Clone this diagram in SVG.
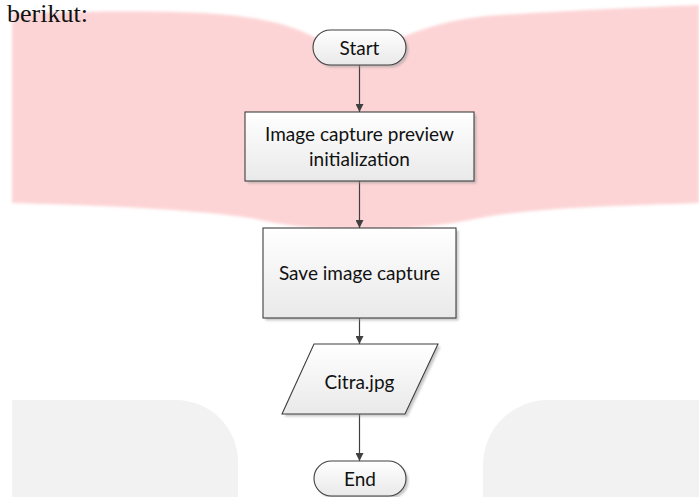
<svg xmlns="http://www.w3.org/2000/svg" width="699" height="497" viewBox="0 0 699 497">
<defs>
<style>
.node{fill:url(#g);stroke:#3f3f3f;stroke-width:1.1}
.sh{fill:#9a9a9a;opacity:0.55;filter:url(#blur)}
.lbl{font-family:Lato,"Open Sans","Liberation Sans",sans-serif;font-size:19px;fill:#111;text-anchor:middle}
.edge{stroke:#404040;stroke-width:1.2;fill:none;marker-end:url(#arr)}
</style>
<linearGradient id="g" x1="0" y1="0" x2="0" y2="1">
<stop offset="0" stop-color="#ffffff"/>
<stop offset="1" stop-color="#e9e9e9"/>
</linearGradient>
<filter id="blur" x="-10%" y="-10%" width="120%" height="130%"><feGaussianBlur stdDeviation="1"/></filter>
<filter id="soft" x="-5%" y="-5%" width="110%" height="110%"><feGaussianBlur stdDeviation="1.5"/></filter>
<marker id="arr" viewBox="0 0 10 10" refX="10" refY="5" markerWidth="8" markerHeight="8" markerUnits="userSpaceOnUse" orient="auto">
<path d="M0,0 L10,5 L0,10 Z" fill="#404040"/>
</marker>
</defs>
<rect width="699" height="497" fill="#ffffff"/>
<g id="background">
<path d="M12,13 C120,11 200,10 245,17 C285,23 300,30 320,40 L400,38 C430,26 455,18 500,15 C580,10 650,7 699,5 L699,203 C620,206 540,207 480,218 C450,224 420,229 360,229 C300,229 280,224 250,218 C200,210 100,205 12,203 Z" fill="#fdd4d6" filter="url(#soft)"/>
<path d="M12,497 V400 H176 A62,62 0 0 1 238,462 V497 Z" fill="#f2f2f2"/>
<path d="M699,497 V400 H548 A65,65 0 0 0 483,465 V497 Z" fill="#f2f2f2"/>
<text x="7" y="22" font-family="'Liberation Serif',serif" font-size="26" fill="#111">berikut:</text>
</g>
<g id="connectors">
<line class="edge" x1="359.5" y1="65" x2="359.5" y2="112"/>
<line class="edge" x1="359.5" y1="181" x2="359.5" y2="228"/>
<line class="edge" x1="359.5" y1="318" x2="359.5" y2="344"/>
<line class="edge" x1="359.5" y1="414" x2="359.5" y2="461"/>
</g>
<g id="start">
<rect class="sh" x="315.5" y="32.5" width="93" height="35" rx="17.5"/>
<rect class="node" x="313" y="30" width="93" height="35" rx="17.5"/>
<text class="lbl" x="359.5" y="55">Start</text>
</g>
<g id="init">
<rect class="sh" x="247.5" y="114.5" width="229" height="69"/>
<rect class="node" x="245" y="112" width="229" height="69"/>
<text class="lbl" x="359.5" y="141">Image capture preview</text>
<text class="lbl" x="359.5" y="166">initialization</text>
</g>
<g id="save">
<rect class="sh" x="265.5" y="230.5" width="193" height="90"/>
<rect class="node" x="263" y="228" width="193" height="90"/>
<text class="lbl" x="359.5" y="280">Save image capture</text>
</g>
<g id="citra">
<polygon class="sh" points="316.5,346.5 440.5,346.5 407.5,416.5 284.5,416.5"/>
<polygon class="node" points="314,344 438,344 405,414 282,414"/>
<text class="lbl" x="359.5" y="389">Citra.jpg</text>
</g>
<g id="end">
<rect class="sh" x="316.5" y="463.5" width="92" height="35" rx="17.5"/>
<rect class="node" x="314" y="461" width="92" height="35" rx="17.5"/>
<text class="lbl" x="360" y="486">End</text>
</g>
</svg>
